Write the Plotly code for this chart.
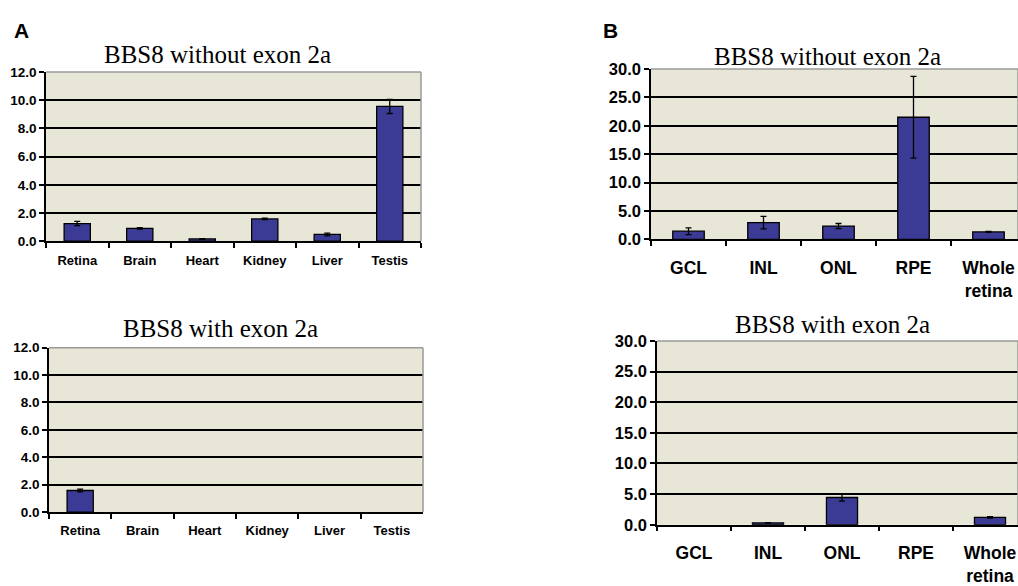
import plotly.graph_objects as go

W, H = 1018, 586

tissues = ["Retina", "Brain", "Heart", "Kidney", "Liver", "Testis"]
a_without = [1.25, 0.91, 0.16, 1.58, 0.48, 9.55]
a_without_err = [0.15, 0.05, 0.03, 0.05, 0.1, 0.5]
a_with = [1.58, 0, 0, 0, 0, 0]
a_with_err = [0.1, 0, 0, 0, 0, 0]

layers = ["GCL", "INL", "ONL", "RPE", "Whole<br>retina"]
b_without = [1.42, 2.95, 2.33, 21.5, 1.3]
b_without_err = [0.6, 1.1, 0.45, 7.2, 0.1]
b_with = [0, 0.3, 4.44, 0, 1.2]
b_with_err = [0, 0.05, 0.6, 0, 0.1]

a_ticks = [0, 2, 4, 6, 8, 10, 12]
b_ticks = [0, 5, 10, 15, 20, 25, 30]

BAR = "#3b3b96"
BG = "#e7e6d7"

def fx(x):
    return x / W

def fy(y):
    return 1 - y / H

def px_x(x0, x1):
    return [max(0, fx(x0)), min(1, fx(x1))]

def px_y(y0, y1):
    return [fy(y1), fy(y0)]

panels = [
    # cats, vals, errs, xdom, ydom, yticks, xrange, xfont, yfont, standoff, title_y, title_x
    (tissues, a_without, a_without_err, px_x(46, 421), px_y(65, 240), a_ticks, [-0.5, 5.5], 13, 13.5, 6, 47, 217),
    (tissues, a_with, a_with_err, px_x(49, 423), px_y(350, 520), a_ticks, [-0.5, 5.5], 13, 13.5, 6, 330, 220),
    (layers, b_without, b_without_err, px_x(651, 1018), px_y(62, 238), b_ticks, [-0.5, -0.5 + (1018 - 651) / 75.0], 17.5, 16.5, 12, 49, 827),
    (layers, b_with, b_with_err, px_x(657, 1018), px_y(343, 533), b_ticks, [-0.5, -0.5 + (1018 - 657) / 74.0], 17.5, 16.5, 12, 326, 832),
]
titles = ["BBS8 without exon 2a", "BBS8 with exon 2a", "BBS8 without exon 2a", "BBS8 with exon 2a"]

fig = go.Figure()
layout = dict(
    width=W, height=H, margin=dict(l=0, r=0, t=0, b=0),
    paper_bgcolor="white", plot_bgcolor=BG, showlegend=False,
    font=dict(family="Liberation Sans, Arial", color="black"),
    annotations=[], shapes=[],
)

for i, (cats, vals, errs, xd, yd, yt, xr, xfs, yfs, standoff, ty, tx) in enumerate(panels):
    n = "" if i == 0 else str(i + 1)
    shown_vals = [v if v else None for v in vals]
    shown_errs = [e if v else None for v, e in zip(vals, errs)]
    fig.add_trace(go.Bar(
        x=cats, y=shown_vals, xaxis="x" + n, yaxis="y" + n,
        marker=dict(color=BAR, line=dict(color="black", width=1.3)),
        error_y=dict(type="data", array=shown_errs, visible=True, color="black", thickness=1.3, width=3),
        width=0.42,
    ))
    layout["xaxis" + n] = dict(
        domain=xd, anchor="y" + n, range=xr, type="category",
        showline=True, linecolor="black", linewidth=1.5,
        ticks="outside", tickson="boundaries", ticklen=5, tickwidth=1.5, tickcolor="black",
        tickfont=dict(size=xfs, family="Liberation Sans, Arial", weight="bold"),
        ticklabelstandoff=standoff,
        showgrid=False, fixedrange=True,
    )
    layout["yaxis" + n] = dict(
        domain=yd, anchor="x" + n, range=[0, yt[-1]], tickvals=yt,
        ticktext=[f"{v:.1f}" for v in yt],
        showline=True, linecolor="black", linewidth=1.5,
        ticks="outside", ticklen=5, tickwidth=1.5, tickcolor="black",
        tickfont=dict(size=yfs, family="Liberation Sans, Arial", weight="bold"),
        showgrid=True, gridcolor="black", gridwidth=1.5,
        zeroline=False, fixedrange=True,
    )
    xref = ("x" + n) + " domain"
    yref = ("y" + n) + " domain"
    layout["shapes"].append(dict(type="line", xref=xref, yref=yref, x0=0, x1=1, y0=1, y1=1,
                                 line=dict(color="#9a9a9a", width=1.5), layer="above"))
    layout["shapes"].append(dict(type="line", xref=xref, yref=yref, x0=1, x1=1, y0=0, y1=1,
                                 line=dict(color="#9a9a9a", width=1.5), layer="above"))
    layout["annotations"].append(dict(
        text=titles[i], x=fx(tx), y=fy(ty), xref="paper", yref="paper",
        xanchor="center", yanchor="middle", showarrow=False,
        font=dict(family="Liberation Serif, Times New Roman", size=25, color="black"),
    ))

layout["annotations"].append(dict(text="<b>A</b>", x=fx(12), y=fy(22), xref="paper", yref="paper",
                                  xanchor="left", yanchor="middle", showarrow=False,
                                  font=dict(family="Liberation Sans, Arial", size=21)))
layout["annotations"].append(dict(text="<b>B</b>", x=fx(601), y=fy(22), xref="paper", yref="paper",
                                  xanchor="left", yanchor="middle", showarrow=False,
                                  font=dict(family="Liberation Sans, Arial", size=21)))

fig.update_layout(**layout)
post = ("document.documentElement.style.margin='0';document.documentElement.style.padding='0';"
        "document.documentElement.style.overflow='hidden';"
        "document.body.style.margin='0';document.body.style.padding='0';"
        "document.body.style.overflow='hidden';")
fig.write_html("out.html", post_script=post, config={"displayModeBar": False})
